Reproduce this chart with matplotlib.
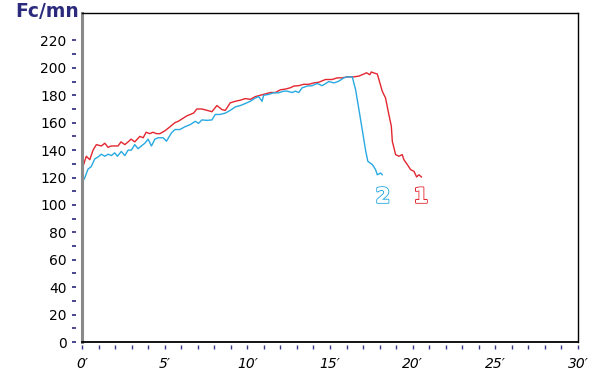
import matplotlib
matplotlib.use("Agg")
import matplotlib.pyplot as plt
import matplotlib.patheffects as pe
from matplotlib.transforms import blended_transform_factory

# heart rate, series 1 (red): minutes / beats per minute
t1 = [0.00, 0.06, 0.26, 0.47, 0.67, 0.87, 1.17, 1.38, 1.58, 1.76, 1.98, 2.18,
      2.36, 2.59, 2.79, 2.97, 3.19, 3.50, 3.70, 3.88, 4.10, 4.30, 4.50, 4.71,
      5.01, 5.32, 5.62, 5.82, 6.35, 6.75, 6.95, 7.25, 7.56, 7.86, 8.16, 8.47,
      8.67, 8.97, 9.27, 9.58, 9.88, 10.18, 10.48, 10.79, 11.09, 11.39, 11.70,
      12.00, 12.30, 12.61, 12.81, 13.11, 13.41, 13.72, 14.02, 14.32, 14.73,
      15.13, 15.44, 15.74, 16.04, 16.44, 16.75, 16.95, 17.21, 17.41, 17.50,
      17.62, 17.86, 17.96, 18.16, 18.36, 18.56, 18.71, 18.77, 18.97, 19.17,
      19.37, 19.47, 19.68, 19.88, 20.08, 20.24, 20.38, 20.53]
v1 = [115, 128, 135.5, 133, 140, 144, 143, 145, 142, 143, 143, 143,
      146, 144, 146, 148, 146, 150, 149, 153, 152, 153, 152, 152,
      154, 157, 160, 161, 165, 167, 170, 170, 169, 168, 172.5, 169.5,
      169, 174.5, 175.6, 176.4, 177.6, 177, 179, 180, 181, 182, 182,
      184, 184.5, 185.5, 186.7, 187, 188, 188, 189, 189.5, 191.5,
      191.5, 192.7, 192.7, 193.4, 193.4, 194, 195, 196.4, 195, 197,
      196.4, 195.5, 191.5, 183, 178, 166, 157.4, 146.4, 136.7, 135.5,
      136.7, 133, 129.4, 125.7, 124.5, 120.4, 122, 120.4]

# series 2 (blue)
t2 = [0.00, 0.02, 0.16, 0.36, 0.56, 0.77, 0.97, 1.17, 1.38, 1.58, 1.78, 1.98,
      2.14, 2.38, 2.59, 2.79, 2.99, 3.19, 3.39, 3.59, 3.80, 4.00, 4.20, 4.41,
      4.61, 4.91, 5.11, 5.41, 5.62, 5.92, 6.22, 6.55, 6.85, 7.05, 7.25, 7.56,
      7.86, 8.06, 8.36, 8.67, 8.97, 9.27, 9.58, 9.88, 10.18, 10.48, 10.69,
      10.89, 10.99, 11.29, 11.59, 11.90, 12.20, 12.41, 12.71, 12.91, 13.11,
      13.31, 13.62, 13.92, 14.22, 14.53, 14.93, 15.24, 15.54, 15.84, 16.04,
      16.35, 16.55, 16.75, 16.95, 17.15, 17.29, 17.56, 17.76, 17.86, 18.06,
      18.16]
v2 = [90, 117, 119.5, 126, 128, 133.5, 135, 137, 135.5, 137, 136, 138,
      135.5, 139, 136, 140, 140, 144, 141, 143, 145, 148, 143, 148,
      149, 149, 146.5, 152.5, 155, 155, 157, 158.6, 161, 159.5, 162, 161.7,
      162, 166, 166, 167, 169, 171.5, 172.5, 174, 175.6, 178, 179,
      175.6, 180, 180.6, 181.8, 181.8, 183, 183, 182, 183, 182,
      185.4, 186.7, 187, 188.6, 187, 190, 189, 190.3, 192.7, 193.4,
      193.4, 184, 169.6, 155, 140, 131.8, 129.4, 125.7, 122, 123.3,
      122]

y_labels = list(range(0, 221, 20))
y_dashes = list(range(0, 221, 10))
x_minutes = list(range(0, 31))
x_labels = [0, 5, 10, 15, 20, 25, 30]

RED = "#e3262f"
BLUE = "#27a9e1"
PURPLE = "#3a3785"

fig = plt.figure(figsize=(5.95, 3.75), dpi=100)
ax = fig.add_axes([0.1378, 0.088, 0.8336, 0.8773])

ax.plot(t1, v1, color=RED, lw=1.0)
ax.plot(t2, v2, color=BLUE, lw=1.0)

ax.set_xlim(0, 30)
ax.set_ylim(0, 240)

for s in ["top", "right"]:
    ax.spines[s].set_color("black")
    ax.spines[s].set_linewidth(1.0)
ax.spines["bottom"].set_color("black")
ax.spines["bottom"].set_linewidth(1.3)
ax.spines["left"].set_color("#8a8a8a")
ax.spines["left"].set_linewidth(2.2)

# labels only, the dashes are drawn separately with a gap to the axis
ax.set_yticks(y_labels)
ax.set_xticks(x_labels)
ax.set_xticklabels([f"{m}\u2032" for m in x_labels], fontstyle="italic")
ax.tick_params(axis="y", length=0, pad=11, labelsize=10)
ax.tick_params(axis="x", length=0, pad=11, labelsize=10)

ty = blended_transform_factory(ax.transAxes, ax.transData)
for y in y_dashes:
    ax.plot([-0.0205, -0.0115], [y, y], transform=ty, color=PURPLE,
            lw=1.3, clip_on=False, solid_capstyle="butt")

tx = blended_transform_factory(ax.transData, ax.transAxes)
for m in x_minutes:
    ax.plot([m, m], [-0.010, -0.022], transform=tx, color=PURPLE,
            lw=1.0, clip_on=False, solid_capstyle="butt")

fig.text(0.025, 0.955, "Fc/mn", fontsize=13.5, fontweight="bold",
         color="#2b2a7c", va="baseline", ha="left")

for label, x, col in [("2", 18.2, BLUE), ("1", 20.5, RED)]:
    ax.text(x, 106, label, fontsize=15, fontweight="bold", color="white",
            ha="center", va="center",
            path_effects=[pe.withStroke(linewidth=1.5, foreground=col),
                          pe.Normal()])

plt.savefig("out.png", dpi=100)
plt.close()
